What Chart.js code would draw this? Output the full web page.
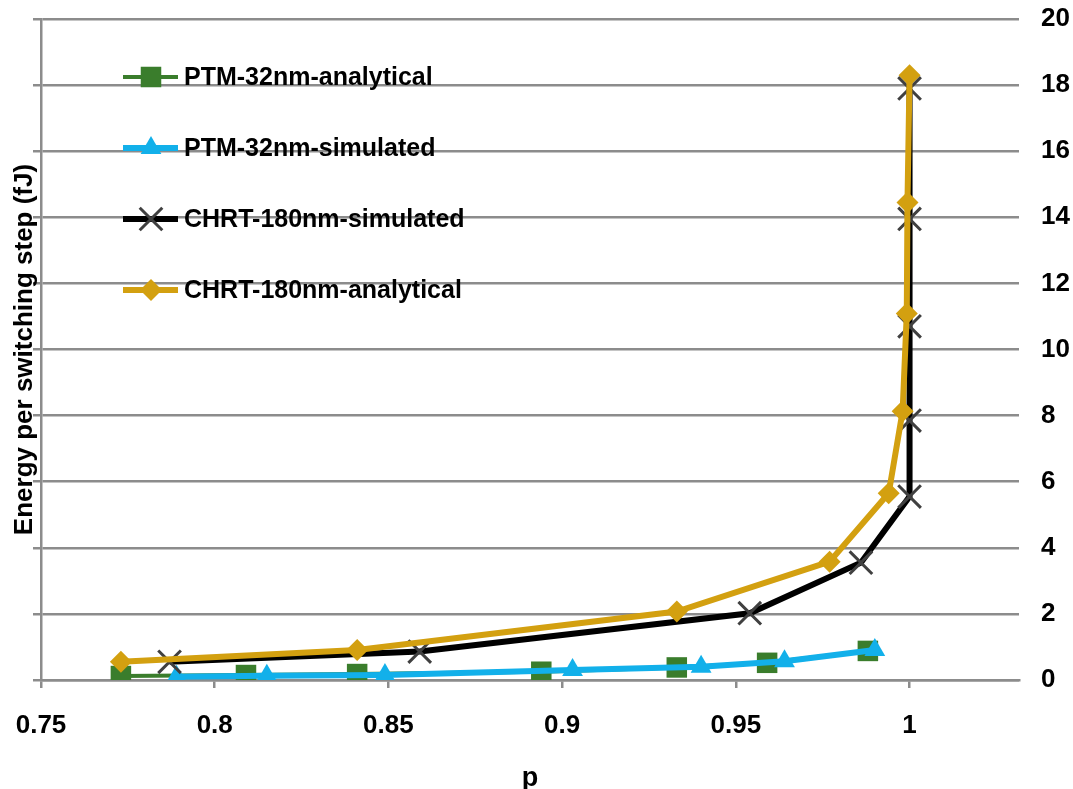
<!DOCTYPE html>
<html>
<head>
<meta charset="utf-8">
<script src="https://cdn.jsdelivr.net/npm/chart.js@4.4.0/dist/chart.umd.min.js"></script>
<style>
  html, body { margin: 0; padding: 0; background: #fff; }
  #wrap { width: 1073px; height: 789px; position: relative; }
</style>
</head>
<body>
<div id="wrap"><canvas id="graficaEnergia"></canvas></div>
<script>
// valores
var ptmAnalyticalP = [0.773, 0.809, 0.841, 0.894, 0.933, 0.959, 0.988];
var ptmAnalyticalE = [0.12, 0.15, 0.18, 0.25, 0.38, 0.52, 0.88];

var ptmSimulatedP = [0.789, 0.815, 0.849, 0.903, 0.940, 0.964, 0.990];
var ptmSimulatedE = [0.10, 0.13, 0.15, 0.30, 0.40, 0.57, 0.91];

var chrtSimulatedP = [0.787, 0.859, 0.954, 0.986, 1.0, 1.0, 1.0, 1.0, 1.0];
var chrtSimulatedE = [0.55, 0.86, 2.02, 3.55, 5.55, 7.85, 10.7, 13.95, 17.9];

var chrtAnalyticalP = [0.773, 0.841, 0.933, 0.977, 0.994, 0.998, 0.9992, 0.9994, 1.0];
var chrtAnalyticalE = [0.55, 0.91, 2.07, 3.58, 5.65, 8.13, 11.09, 14.45, 18.3];

var seriesNames = ["PTM-32nm-analytical", "PTM-32nm-simulated", "CHRT-180nm-simulated", "CHRT-180nm-analytical"];
var xTicks = [0.75, 0.8, 0.85, 0.9, 0.95, 1];
var yTicks = [0, 2, 4, 6, 8, 10, 12, 14, 16, 18, 20];

var fuente = "'Liberation Sans', Arial, sans-serif";
var gris = "#8c8c8c";

function puntos(xs, ys) {
    return xs.map(function (x, i) { return { x: x, y: ys[i] }; });
}

// leyenda dentro del area de la grafica, arriba a la izquierda
var leyendaDentro = {
    id: "leyendaDentro",
    afterDatasetsDraw: function (chart) {
        var ctx = chart.ctx;
        chart.data.datasets.forEach(function (ds, i) {
            var y = 77 + i * 71;
            ctx.save();
            ctx.strokeStyle = ds.borderColor;
            ctx.lineWidth = ds.borderWidth;
            ctx.beginPath();
            ctx.moveTo(123, y);
            ctx.lineTo(178, y);
            ctx.stroke();
            ctx.fillStyle = ds.pointBackgroundColor;
            ctx.strokeStyle = ds.pointBorderColor;
            ctx.lineWidth = ds.pointBorderWidth;
            Chart.helpers.drawPoint(ctx, {
                pointStyle: ds.pointStyle,
                rotation: 0,
                radius: ds.pointRadius,
                borderWidth: ds.pointBorderWidth
            }, 151, y);
            ctx.fillStyle = "#000";
            ctx.font = "bold 25px " + fuente;
            ctx.textBaseline = "middle";
            ctx.textAlign = "left";
            ctx.fillText(ds.label, 184, y + 1);
            ctx.restore();
        });
    }
};

function sinRelleno(s) {
    s.paddingTop = 0;
    s.paddingBottom = 0;
    s.paddingLeft = 0;
    s.paddingRight = 0;
}

new Chart(document.getElementById("graficaEnergia"), {
    type: "line",
    data: {
        datasets: [
            {
                label: seriesNames[0],
                data: puntos(ptmAnalyticalP, ptmAnalyticalE),
                borderColor: "#3a7d2c",
                backgroundColor: "#3a7d2c",
                borderWidth: 4,
                pointStyle: "rect",
                pointRadius: 14.5,
                pointBackgroundColor: "#3a7d2c",
                pointBorderColor: "#3a7d2c",
                pointBorderWidth: 0,
                order: 3
            },
            {
                label: seriesNames[1],
                data: puntos(ptmSimulatedP, ptmSimulatedE),
                borderColor: "#12b0ea",
                backgroundColor: "#12b0ea",
                borderWidth: 6,
                pointStyle: "triangle",
                pointRadius: 12,
                pointBackgroundColor: "#12b0ea",
                pointBorderColor: "#12b0ea",
                pointBorderWidth: 0,
                order: 2
            },
            {
                label: seriesNames[2],
                data: puntos(chrtSimulatedP, chrtSimulatedE),
                borderColor: "#000000",
                backgroundColor: "#000000",
                borderWidth: 6,
                pointStyle: "crossRot",
                pointRadius: 16,
                pointBackgroundColor: "#404040",
                pointBorderColor: "#404040",
                pointBorderWidth: 3,
                order: 1
            },
            {
                label: seriesNames[3],
                data: puntos(chrtAnalyticalP, chrtAnalyticalE),
                borderColor: "#d3a010",
                backgroundColor: "#d3a010",
                borderWidth: 6,
                pointStyle: "rectRot",
                pointRadius: 11,
                pointBackgroundColor: "#d3a010",
                pointBorderColor: "#d3a010",
                pointBorderWidth: 0,
                order: 0
            }
        ]
    },
    options: {
        responsive: true,
        maintainAspectRatio: false,
        animation: false,
        layout: { padding: { top: 19, right: 0, bottom: 0, left: 0 } },
        plugins: {
            legend: { display: false },
            tooltip: { enabled: false }
        },
        elements: { line: { tension: 0 } },
        scales: {
            x: {
                type: "linear",
                min: 0.75,
                max: 1.0315,
                afterBuildTicks: function (s) {
                    s.ticks = xTicks.map(function (v) { return { value: v }; });
                },
                afterFit: function (s) { s.height = 109; sinRelleno(s); },
                grid: { drawOnChartArea: false, drawTicks: true, tickLength: 8, color: gris, lineWidth: 2.5 },
                border: { display: true, color: gris, width: 2.5 },
                ticks: {
                    color: "#000",
                    font: { family: fuente, size: 26, weight: "bold" },
                    padding: 22,
                    maxRotation: 0,
                    autoSkip: false,
                    callback: function (v) { return String(v); }
                },
                title: {
                    display: true,
                    text: "p",
                    color: "#000",
                    font: { family: fuente, size: 27, weight: "bold" },
                    padding: { top: 0, bottom: -6 }
                }
            },
            yIzq: {
                type: "linear",
                position: "left",
                min: 0,
                max: 20,
                afterBuildTicks: function (s) {
                    s.ticks = yTicks.map(function (v) { return { value: v }; });
                },
                afterFit: function (s) { s.width = 41; sinRelleno(s); },
                grid: { color: gris, lineWidth: 2.5, drawTicks: true, tickLength: 8 },
                border: { display: true, color: gris, width: 2.5 },
                ticks: { display: false },
                title: {
                    display: true,
                    text: "Energy per switching step (fJ)",
                    color: "#000",
                    font: { family: fuente, size: 26, weight: "bold" },
                    padding: { top: 9, bottom: 0 }
                }
            },
            y: {
                type: "linear",
                position: "right",
                min: 0,
                max: 20,
                afterBuildTicks: function (s) {
                    s.ticks = yTicks.map(function (v) { return { value: v }; });
                },
                afterFit: function (s) { s.width = 54; sinRelleno(s); },
                grid: { display: false },
                border: { display: false },
                ticks: {
                    color: "#000",
                    font: { family: fuente, size: 26, weight: "bold" },
                    padding: 14
                }
            }
        }
    },
    plugins: [leyendaDentro]
});
</script>
</body>
</html>
